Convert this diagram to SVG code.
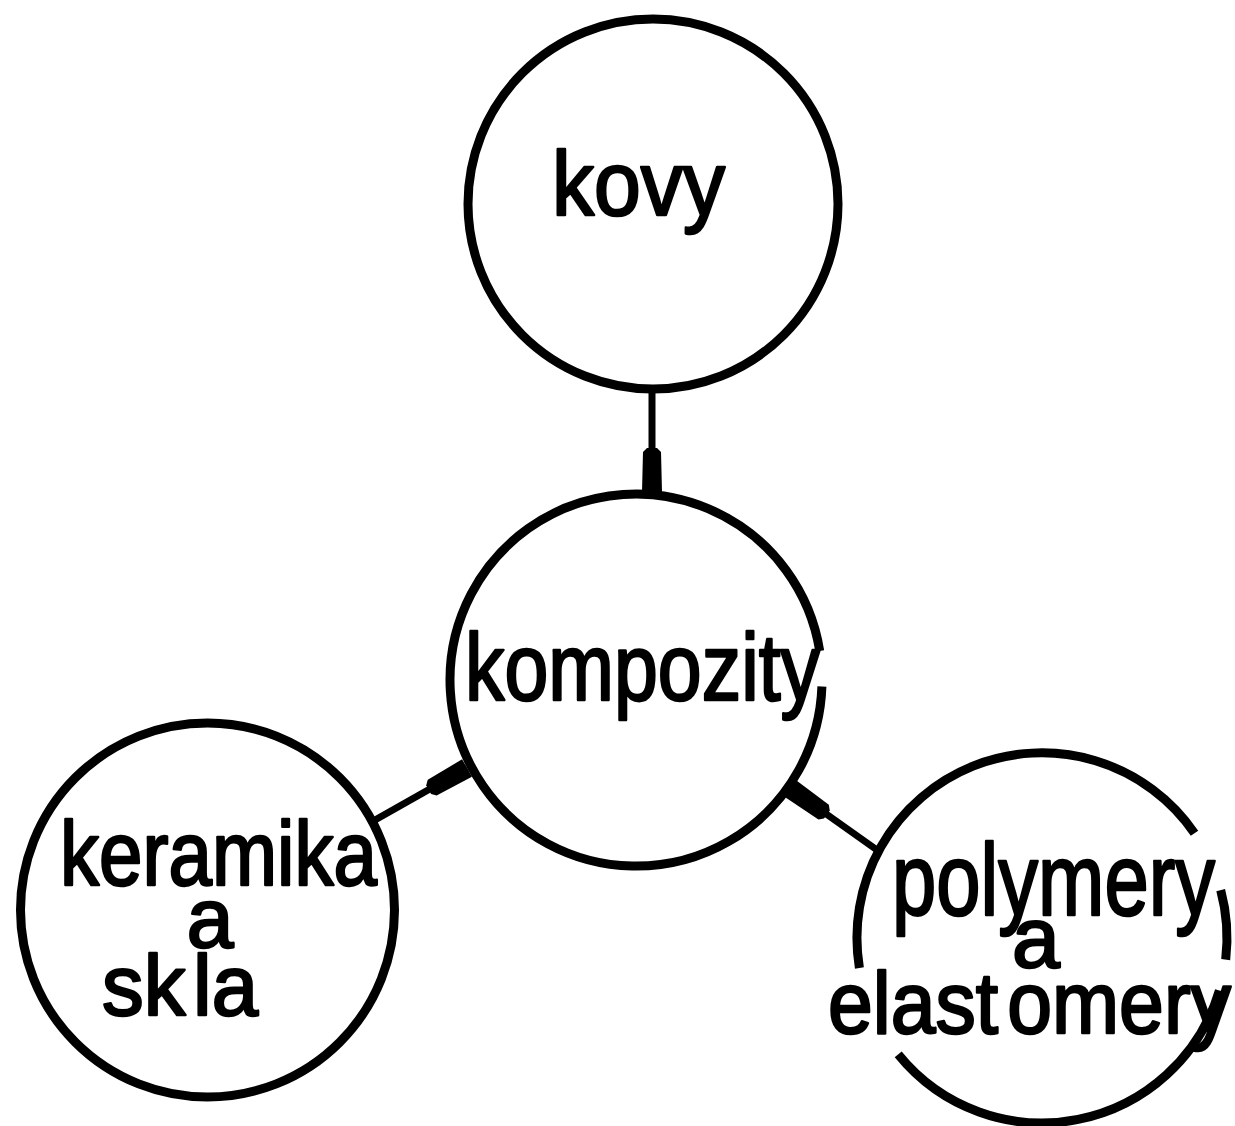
<svg xmlns="http://www.w3.org/2000/svg" width="1235" height="1126" viewBox="0 0 1235 1126">
  <style>
    .ring { fill: none; stroke: #000; stroke-width: 9; }
    .link { fill: none; stroke: #000; stroke-width: 7; }
    .lbl { font-family: "Liberation Sans", Arial, sans-serif; fill: #000; stroke: #000; stroke-width: 2.5; stroke-linejoin: round; }
  </style>
  <defs>
    <!-- blunt, elongated head placed where each link meets the centre ring -->
    <marker id="head" markerUnits="userSpaceOnUse" orient="auto" refX="0" refY="0" markerWidth="60" markerHeight="30" overflow="visible">
      <path d="M-44,-5 L-40,-9 L0,-10 L0,10 L-40,9 L-44,5 Z" fill="#000"/>
    </marker>
  </defs>
  <rect width="1235" height="1126" fill="#fff"/>

  <g id="connectors">
    <line class="link" x1="652" y1="393" x2="652" y2="492" marker-end="url(#head)"/>
    <line class="link" x1="375" y1="820" x2="467" y2="768" marker-end="url(#head)"/>
    <line class="link" x1="877" y1="850" x2="791" y2="789" marker-end="url(#head)"/>
  </g>

  <g id="kovy">
    <circle class="ring" cx="653" cy="204" r="185"/>
    <text class="lbl" x="552" y="215" font-size="90" textLength="173" lengthAdjust="spacingAndGlyphs">kovy</text>
  </g>

  <g id="kompozity">
    <path class="ring" d="M821.9,686.5 A186,186 0 1 1 819.7,650.9"/>
    <text class="lbl" x="465" y="700" font-size="94" textLength="355" lengthAdjust="spacingAndGlyphs">kompozity</text>
  </g>

  <g id="keramika">
    <circle class="ring" cx="207.5" cy="910" r="187"/>
    <text class="lbl" x="60" y="885" font-size="90" textLength="317" lengthAdjust="spacingAndGlyphs">keramika</text>
    <text class="lbl" x="210" y="947" font-size="84" text-anchor="middle">a</text>
    <text class="lbl" x="102" y="1015" font-size="86" textLength="156" lengthAdjust="spacingAndGlyphs">sk<tspan dx="8">la</tspan></text>
  </g>

  <g id="polymery">
    <path class="ring" d="M859.4,967.9 A185,185 0 0 1 1194.5,833.2"/>
    <path class="ring" d="M1220.7,890.1 A185,185 0 0 1 1225.7,959.6"/>
    <path class="ring" d="M1219.4,990.5 A185,185 0 0 1 898.2,1054.4"/>
    <text class="lbl" x="892" y="915" font-size="102" textLength="323" lengthAdjust="spacingAndGlyphs">polymery</text>
    <text class="lbl" x="1036" y="967" font-size="86" text-anchor="middle">a</text>
    <text class="lbl" x="828" y="1033" font-size="88" textLength="403" lengthAdjust="spacingAndGlyphs">elast<tspan dx="10">omery</tspan></text>
  </g>
</svg>
